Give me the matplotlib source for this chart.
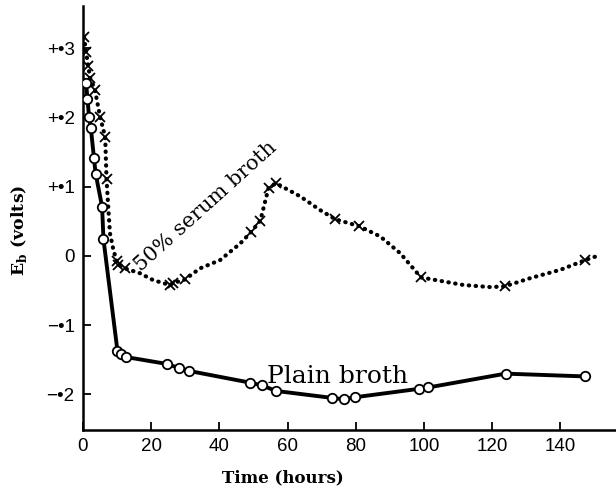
import matplotlib
matplotlib.use("Agg")
import matplotlib.pyplot as plt
import numpy as np

# Plain broth (open circles, solid line)
plain_t = [0.9, 1.3, 1.8, 2.3, 3.2, 3.7, 5.6, 6.0, 10.1, 11.1, 12.6, 24.6, 28.2, 31.0,
           49.0, 52.5, 56.6, 73.0, 76.4, 79.9, 98.4, 101.2, 123.9, 147.1]
plain_v = [0.250, 0.227, 0.200, 0.185, 0.142, 0.119, 0.071, 0.024, -0.137, -0.141, -0.146,
           -0.156, -0.162, -0.166, -0.183, -0.187, -0.195, -0.205, -0.207, -0.204,
           -0.192, -0.190, -0.170, -0.174]

# 50% serum broth (dotted curve; x markers where marked)
serum_t = [0.3, 0.9, 1.5, 2.1, 3.5, 5.0, 6.5, 6.9, 7.4, 7.9, 8.9, 9.9, 10.4, 12.3, 16.7,
           20.6, 25.5, 26.5, 29.9, 34.3, 40.2, 46.1, 49.2, 52.0, 54.4, 56.6, 63.7, 69.6,
           74.0, 81.0, 87.2, 93.0, 99.1, 111.6, 119.5, 123.6, 131.2, 140.0, 147.3, 150.8]
serum_v = [0.316, 0.295, 0.275, 0.257, 0.240, 0.201, 0.172, 0.111, 0.071, 0.033, 0.009,
           -0.008, -0.013, -0.018, -0.025, -0.035, -0.042, -0.039, -0.034, -0.018, -0.006,
           0.018, 0.034, 0.051, 0.098, 0.105, 0.086, 0.066, 0.053, 0.043, 0.028, 0.004,
           -0.031, -0.042, -0.045, -0.044, -0.032, -0.020, -0.006, 0.000]
serum_marked = [True, True, True, True, True, True, True, True, False, False, False,
                True, True, True, False, False, True, True, True, False, False, False,
                True, True, True, True, False, False, True, True, False, False, True,
                False, False, True, False, False, True, False]

xticks = [0, 20, 40, 60, 80, 100, 120, 140]
yticks = [0.3, 0.2, 0.1, 0.0, -0.1, -0.2]
ytick_labels = ["+\u20223", "+\u20222", "+\u20221", "0", "\u2212\u20221", "\u2212\u20222"]

fig = plt.figure(figsize=(6.16, 4.9), dpi=100)
ax = fig.add_axes([83/616, 1 - 430/490, (615 - 83)/616, (430 - 6)/490])

ax.plot(plain_t, plain_v, color="black", lw=2.8, marker="o", ms=6.8,
        mfc="white", mec="black", mew=1.3, zorder=3)
ax.plot(serum_t, serum_v, color="black", lw=3.0, linestyle=(0, (0.1, 1.55)),
        dash_capstyle="round", marker="x", ms=6.5, mew=1.3,
        markevery=serum_marked, zorder=2)

ax.set_xlim(0, 156)
ax.set_ylim(-0.2514, 0.361)
for s in ["top", "right"]:
    ax.spines[s].set_visible(False)
for s in ["left", "bottom"]:
    ax.spines[s].set_linewidth(1.8)

ax.set_xticks(xticks)
ax.set_yticks(yticks)
ax.set_yticklabels(ytick_labels)
ax.tick_params(axis="both", direction="in", length=6, width=1.3, labelsize=13.5)
ax.tick_params(axis="x", pad=6)
ax.tick_params(axis="y", pad=6)
for lab in ax.get_xticklabels() + ax.get_yticklabels():
    lab.set_fontfamily("Liberation Sans")

ax.text(54.0, -0.1835, "Plain broth", fontsize=18, family="DejaVu Serif",
        ha="left", va="baseline")
ax.text(37.0, 0.066, "50% serum broth", fontsize=15, family="DejaVu Serif",
        rotation=42, rotation_mode="anchor", ha="center", va="baseline")

fig.text(283/616, 1 - 478/490, "Time (hours)", fontsize=12, family="DejaVu Serif",
         fontweight="bold", ha="center", va="center")
fig.text(19/616, 1 - 230/490, r"E$_\mathregular{b}$ (volts)", fontsize=12.5,
         family="DejaVu Serif", fontweight="bold", rotation=90, ha="center", va="center")

fig.savefig("out.png", dpi=100)
